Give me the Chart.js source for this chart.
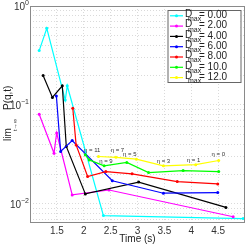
<!DOCTYPE html>
<html>
<head>
<meta charset="utf-8">
<script src="https://cdn.jsdelivr.net/npm/chart.js@4/dist/chart.umd.min.js"></script>
<style>
  html, body { margin: 0; padding: 0; background: #fff; }
  #caja { width: 249px; height: 245px; }
</style>
</head>
<body>
<div id="caja"><canvas id="graficoP"></canvas></div>
<script>
// valores
const dmax = ["0.00", "2.00", "4.00", "6.00", "8.00", "10.0", "12.0"];
const colores = ["#00ffff", "#ff00ff", "#000000", "#0000ff", "#ff0000", "#00ff00", "#ffff00"];

const t0 = [1.171, 1.3125, 1.656, 1.693, 2.366, 4.965];
const p0 = [0.354, 0.595, 0.112, 0.156, 0.0076, 0.0071];
const t2 = [1.171, 1.447, 1.496, 1.785, 2.47, 4.78];
const p2 = [0.0805, 0.0325, 0.052, 0.0123, 0.0138, 0.0074];
const t4 = [1.244, 1.417, 1.601, 1.675, 2.029, 3.022, 4.645];
const p4 = [0.198, 0.119, 0.156, 0.038, 0.0126, 0.0166, 0.0092];
const t6 = [1.491, 1.570, 1.785, 2.531, 3.482, 4.493];
const p6 = [0.123, 0.0338, 0.0436, 0.0171, 0.0128, 0.0130];
const t8 = [1.796, 1.858, 2.072, 2.41, 2.899, 3.739, 4.493];
const p8 = [0.0926, 0.0394, 0.0189, 0.0212, 0.0201, 0.0168, 0.0159];
const t10 = [2.029, 2.103, 2.379, 2.801, 3.206, 3.849, 4.511];
const p10 = [0.0313, 0.0278, 0.0242, 0.0262, 0.0207, 0.0217, 0.0212];
const t12 = [2.274, 2.599, 2.98, 3.482, 4.083, 4.511];
const p12 = [0.0301, 0.0295, 0.0283, 0.0242, 0.0249, 0.0274];

const etaTexto = ["η = 11", "η = 9", "η = 7", "η = 5", "η = 3", "η = 1", "η = 0"];
const etaT = [2.158, 2.412, 2.627, 2.857, 3.482, 4.042, 4.502];
const etaP = [0.0345, 0.0266, 0.0345, 0.032, 0.0267, 0.0278, 0.0318];

const xTicks = [1.5, 2, 2.5, 3, 3.5, 4, 4.5];
const yTicks = [1, 0.9, 0.8, 0.7, 0.6, 0.5, 0.4, 0.3, 0.2,
                0.1, 0.09, 0.08, 0.07, 0.06, 0.05, 0.04, 0.03, 0.02,
                0.01, 0.009, 0.008, 0.007];
const yEtiquetas = [[1, "0"], [0.1, "−1"], [0.01, "−2"]];

const series = [[t0, p0], [t2, p2], [t4, p4], [t6, p6], [t8, p8], [t10, p10], [t12, p12]];

const fuente = "'Liberation Sans', Arial, sans-serif";

const extras = {
    id: "extras",
    afterDatasetsDraw(chart) {
        const { ctx, scales: { x, y } } = chart;
        ctx.save();
        ctx.font = "6px " + fuente;
        ctx.fillStyle = "#333";
        ctx.textAlign = "center";
        ctx.textBaseline = "middle";
        etaTexto.forEach((txt, i) => {
            ctx.fillText(txt, x.getPixelForValue(etaT[i]), y.getPixelForValue(etaP[i]));
        });
        ctx.restore();
    },
    afterDraw(chart) {
        const { ctx, chartArea: a, scales: { y } } = chart;
        ctx.save();

        // marco
        ctx.strokeStyle = "#8a8a8a";
        ctx.lineWidth = 1;
        ctx.strokeRect(a.left + 0.5, a.top + 0.5, a.right - a.left - 1, a.bottom - a.top - 1);

        // etiquetas del eje y
        ctx.fillStyle = "#333";
        ctx.textBaseline = "middle";
        ctx.textAlign = "right";
        yEtiquetas.forEach(([v, e]) => {
            const py = y.getPixelForValue(v) + 1;
            ctx.font = "7px " + fuente;
            const w = ctx.measureText(e).width;
            ctx.fillText(e, 29, py - 4);
            ctx.font = "10px " + fuente;
            ctx.fillText("10", 29 - w, py);
        });

        // titulo del eje y
        ctx.save();
        ctx.translate(8, 0);
        ctx.rotate(-Math.PI / 2);
        ctx.textAlign = "left";
        ctx.fillStyle = "#222";
        ctx.font = "10px " + fuente;
        ctx.fillText("lim", -141, 0);
        ctx.font = "6px " + fuente;
        ctx.fillText("t→∞", -131, 7);
        ctx.font = "10px " + fuente;
        ctx.fillText("P(q,t)", -110, 0);
        ctx.restore();

        // leyenda
        const lx = 167.5, ly = 10, lw = 73, lh = 72;
        ctx.fillStyle = "#fff";
        ctx.fillRect(lx, ly, lw, lh);
        ctx.strokeStyle = "#666";
        ctx.strokeRect(lx + 0.5, ly + 0.5, lw, lh);
        dmax.forEach((val, i) => {
            const cy = 14.3 + i * 10.3;
            ctx.strokeStyle = colores[i];
            ctx.fillStyle = colores[i];
            ctx.lineWidth = 1.2;
            ctx.beginPath();
            ctx.moveTo(170, cy + 1.5);
            ctx.lineTo(183, cy + 1.5);
            ctx.stroke();
            ctx.beginPath();
            ctx.arc(176.5, cy + 1.5, 1.5, 0, Math.PI * 2);
            ctx.fill();
            ctx.fillStyle = "#222";
            ctx.textAlign = "left";
            ctx.font = "10px " + fuente;
            ctx.fillText("D", 185, cy);
            ctx.font = "7px " + fuente;
            ctx.fillText("max", 188, cy + 5);
            ctx.font = "10px " + fuente;
            ctx.fillText("= " + val, 199, cy + 1);
        });

        ctx.restore();
    }
};

new Chart(document.getElementById("graficoP"), {
    type: "line",
    data: {
        datasets: series.map(([ts, ps], i) => ({
            label: "Dmax = " + dmax[i],
            data: ts.map((t, k) => ({ x: t, y: ps[k] })),
            borderColor: colores[i],
            backgroundColor: colores[i],
            borderWidth: 1.2,
            pointRadius: 1.5,
            pointBorderWidth: 0,
            tension: 0,
            fill: false,
            order: 6 - i
        }))
    },
    options: {
        responsive: true,
        maintainAspectRatio: false,
        animation: false,
        layout: { padding: { top: 6, right: 2, left: 0, bottom: 0 } },
        plugins: {
            legend: { display: false },
            tooltip: { enabled: false }
        },
        scales: {
            x: {
                type: "linear",
                min: 1,
                max: 5,
                afterBuildTicks: (s) => { s.ticks = xTicks.map(v => ({ value: v })); },
                afterFit: (s) => { s.height = 22; },
                ticks: {
                    color: "#333",
                    font: { size: 10, family: fuente },
                    padding: 2,
                    maxRotation: 0,
                    callback: (v) => String(v)
                },
                grid: { color: "#dadada", drawTicks: false },
                border: { display: false, dash: [1, 2] },
                title: {
                    display: true,
                    text: "Time (s)",
                    color: "#222",
                    font: { size: 10, family: fuente },
                    padding: { top: 0, bottom: 0 }
                }
            },
            y: {
                type: "logarithmic",
                min: 0.0064,
                max: 1,
                afterBuildTicks: (s) => { s.ticks = yTicks.map(v => ({ value: v })); },
                afterFit: (s) => { s.width = 30; },
                ticks: { display: false },
                grid: { color: "#dadada", drawTicks: false },
                border: { display: false, dash: [1, 2] }
            }
        }
    },
    plugins: [extras]
});
</script>
</body>
</html>
